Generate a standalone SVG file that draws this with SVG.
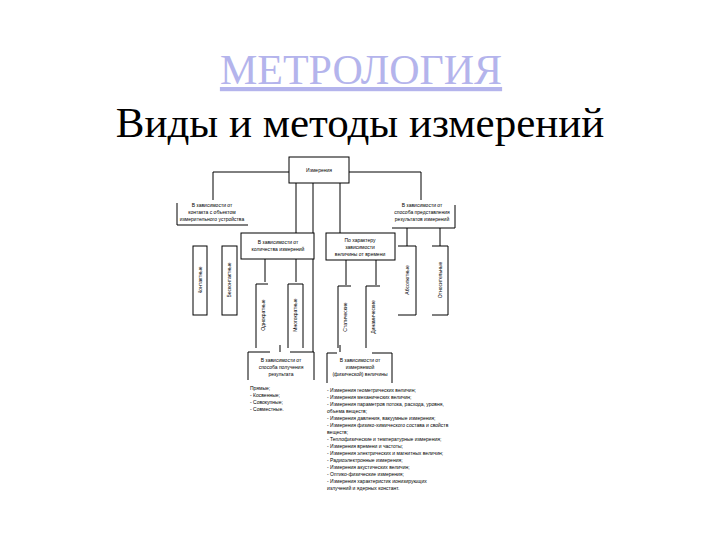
<svg xmlns="http://www.w3.org/2000/svg" width="720" height="540" viewBox="0 0 720 540">
<style>
.b{fill:#fff;stroke:#000;stroke-width:1}
.l{fill:none;stroke:#000;stroke-width:1}
.t{font-family:"Liberation Sans",Arial,sans-serif;font-size:5px;fill:#000}
.c{text-anchor:middle}
</style>
<rect width="720" height="540" fill="#fff"/>
<text x="361" y="84" text-anchor="middle" font-family="Liberation Serif,serif" font-size="42" fill="#b4b4ec" text-decoration="underline">МЕТРОЛОГИЯ</text>
<text x="360" y="137" text-anchor="middle" font-family="Liberation Serif,serif" font-size="43" fill="#000">Виды и методы измерений</text>
<g id="connectors">
<path class="l" d="M289,172H213V200M349,172H421V200M313,183V352M296,183V233M340,183V233"/>
<path class="l" d="M407,228V246M440,228V246"/>
<path class="l" d="M265,259V282M296,259V282M346,260V285M376,260V285M280,352V345M340,352V345"/>
</g>
<g id="n0"><rect class="b" x="289" y="157" width="60" height="26"/><text class="t c" x="319" y="172">Измерения</text></g>
<g id="n1"><path class="l" d="M177,203V225H248"/><text class="t c" x="212" y="207">В зависимости от</text><text class="t c" x="212" y="214">контакта с объектом</text><text class="t c" x="212" y="221">измерительного устройства</text></g>
<g id="n2"><path class="l" d="M392,228H455V205"/><text class="t c" x="422" y="207">В зависимости от</text><text class="t c" x="422" y="214">способа представления</text><text class="t c" x="422" y="221">результатов измерений</text></g>
<g id="n3"><rect class="b" x="241" y="233" width="73" height="26"/><text class="t c" x="278" y="244">В зависимости от</text><text class="t c" x="278" y="251">количества измерений</text></g>
<g id="n4"><rect class="b" x="326" y="233" width="69" height="27"/><text class="t c" x="360" y="242">По характеру</text><text class="t c" x="360" y="249">зависимости</text><text class="t c" x="360" y="256">величины от времени</text></g>
<g id="n5"><rect class="b" x="193" y="246" width="14" height="69"/><text class="t c" transform="translate(202,280) rotate(-90)">Контактные</text></g>
<g id="n6"><rect class="b" x="222" y="246" width="15" height="69"/><text class="t c" transform="translate(231,280) rotate(-90)">Бесконтактные</text></g>
<g id="n7"><path class="l" d="M256,348V284H268"/><text class="t c" transform="translate(265,315) rotate(-90)">Однократные</text></g>
<g id="n8"><path class="l" d="M288,348V284H303V348"/><text class="t c" transform="translate(297,315) rotate(-90)">Многократные</text></g>
<g id="n9"><path class="l" d="M338,348V286H351"/><text class="t c" transform="translate(347,317) rotate(-90)">Статические</text></g>
<g id="n10"><path class="l" d="M366,348V286H380"/><text class="t c" transform="translate(375,317) rotate(-90)">Динамические</text></g>
<g id="n11"><path class="l" d="M398,246H416V315H398"/><text class="t c" transform="translate(409,280) rotate(-90)">Абсолютные</text></g>
<g id="n12"><path class="l" d="M432,246H448V315H432"/><text class="t c" transform="translate(442,280) rotate(-90)">Относительные</text></g>
<g id="n13"><path class="l" d="M248,352V380M248,352H270M290,352H314V380"/><text class="t c" x="281" y="362">В зависимости от</text><text class="t c" x="281" y="369">способа получения</text><text class="t c" x="281" y="376">результата</text>
<text class="t" x="250" y="390">Прямые;</text><text class="t" x="250" y="397">- Косвенные;</text><text class="t" x="250" y="404">- Совокупные;</text><text class="t" x="250" y="411">- Совместные.</text></g>
<g id="n14"><path class="l" d="M327,383V353H337M372,353H392V383"/><text class="t c" x="360" y="362">В зависимости от</text><text class="t c" x="360" y="369">измеряемой</text><text class="t c" x="360" y="376">(физической) величины</text>
<text class="t" x="327" y="392">- Измерения геометрических величин;</text>
<text class="t" x="327" y="399">- Измерения механических величин;</text>
<text class="t" x="327" y="406">- Измерения параметров потока, расхода, уровня,</text>
<text class="t" x="327" y="413">объема веществ;</text>
<text class="t" x="327" y="420">- Измерения давления, вакуумные измерения;</text>
<text class="t" x="327" y="427">- Измерения физико-химического состава и свойств</text>
<text class="t" x="327" y="434">веществ;</text>
<text class="t" x="327" y="441">- Теплофизические и температурные измерения;</text>
<text class="t" x="327" y="448">- Измерения времени и частоты;</text>
<text class="t" x="327" y="455">- Измерения электрических и магнитных величин;</text>
<text class="t" x="327" y="462">- Радиоэлектронные измерения;</text>
<text class="t" x="327" y="469">- Измерения акустических величин;</text>
<text class="t" x="327" y="476">- Оптико-физические измерения;</text>
<text class="t" x="327" y="483">- Измерения характеристик ионизирующих</text>
<text class="t" x="327" y="490">излучений и ядерных констант.</text></g>
</svg>
